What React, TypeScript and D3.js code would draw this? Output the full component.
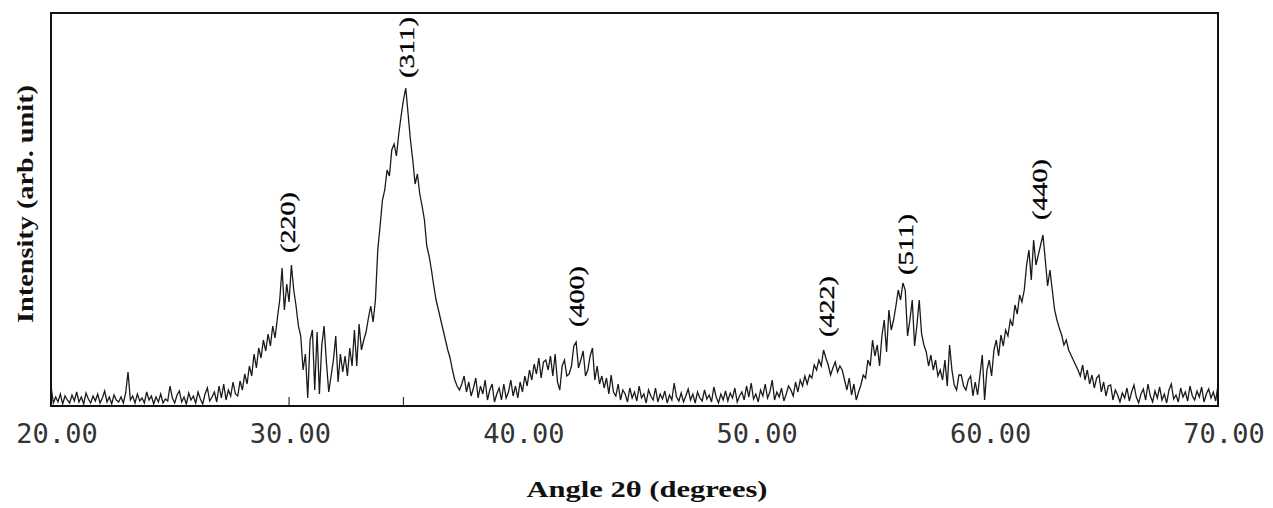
import * as d3 from "d3";

// XRD pattern, intensity at 0.1 degree steps (20.0 .. 70.0)
const angleStart = 20;
const angleStep = 0.1;
const intensity = [
  20, 3, 9, 4, 12, 2, 10, 6, 3, 11, // 20
  5, 14, 4, 9, 2, 13, 7, 3, 10, 5, // 21
  12, 3, 8, 15, 4, 9, 2, 11, 6, 4, // 22
  9, 3, 13, 34, 6, 10, 3, 12, 5, 8, // 23
  3, 14, 6, 10, 2, 9, 4, 12, 3, 7, // 24
  5, 20, 8, 3, 11, 15, 4, 9, 2, 13, // 25
  6, 10, 3, 14, 7, 2, 12, 18, 5, 9, // 26
  14, 4, 20, 8, 22, 6, 16, 10, 24, 12, // 27
  10, 25, 16, 32, 22, 40, 30, 52, 38, 58, // 28
  48, 66, 55, 72, 60, 80, 68, 88, 106, 138, // 29
  96, 122, 104, 141, 116, 100, 80, 70, 36, 52, // 30
  8, 66, 76, 16, 74, 12, 60, 80, 44, 14, // 31
  30, 46, 70, 24, 52, 34, 50, 30, 58, 40, // 32
  76, 40, 82, 56, 66, 74, 88, 100, 84, 106, // 33
  156, 180, 206, 216, 236, 230, 256, 262, 250, 272, // 34
  290, 306, 318, 292, 266, 246, 222, 232, 212, 200, // 35
  186, 160, 150, 136, 120, 106, 96, 86, 76, 66, // 36
  56, 48, 36, 26, 20, 16, 22, 30, 14, 24, // 37
  10, 18, 28, 8, 20, 12, 26, 6, 16, 22, // 38
  4, 12, 18, 6, 22, 8, 14, 26, 10, 20, // 39
  8, 24, 14, 30, 20, 36, 26, 42, 32, 48, // 40
  28, 44, 46, 36, 50, 30, 52, 24, 16, 40, // 41
  46, 30, 32, 40, 60, 64, 38, 46, 55, 30, // 42
  36, 50, 58, 26, 40, 22, 30, 18, 28, 12, // 43
  31, 14, 10, 22, 6, 16, 12, 4, 18, 8, // 44
  14, 5, 20, 8, 12, 3, 16, 10, 6, 18, // 45
  4, 12, 7, 15, 3, 11, 6, 23, 9, 5, // 46
  13, 4, 10, 17, 6, 12, 3, 14, 8, 5, // 47
  16, 7, 11, 4, 19, 9, 3, 12, 6, 15, // 48
  5, 13, 8, 18, 4, 10, 14, 6, 20, 9, // 49
  23, 7, 12, 4, 16, 10, 22, 8, 14, 26, // 50
  6, 14, 9, 18, 5, 12, 20, 16, 10, 24, // 51
  14, 26, 20, 30, 22, 31, 28, 41, 36, 46, // 52
  40, 56, 48, 41, 31, 38, 44, 34, 40, 36, // 53
  26, 16, 28, 11, 22, 6, 14, 21, 31, 28, // 54
  46, 40, 66, 50, 61, 40, 70, 86, 54, 96, // 55
  76, 86, 100, 116, 106, 123, 116, 70, 86, 106, // 56
  60, 81, 106, 72, 61, 54, 40, 51, 36, 46, // 57
  30, 36, 26, 46, 20, 61, 36, 21, 16, 31, // 58
  31, 20, 16, 26, 30, 10, 24, 11, 31, 51, // 59
  6, 36, 46, 30, 56, 66, 50, 71, 60, 76, // 60
  70, 86, 80, 101, 92, 111, 104, 116, 141, 156, // 61
  126, 166, 141, 151, 161, 171, 146, 120, 136, 116, // 62
  96, 86, 78, 71, 61, 66, 56, 51, 46, 41, // 63
  36, 30, 41, 26, 36, 22, 31, 18, 28, 31, // 64
  14, 24, 10, 20, 21, 6, 16, 11, 4, 13, // 65
  8, 18, 5, 14, 21, 9, 3, 12, 17, 6, // 66
  22, 10, 4, 15, 8, 19, 6, 12, 3, 16, // 67
  22, 7, 11, 4, 18, 9, 14, 5, 20, 10, // 68
  6, 15, 9, 19, 4, 12, 17, 8, 14, 5, // 69
  21, // 70
];

// hkl labels: angle and the intensity level where the label starts
const peakNames = ["(220)", "(311)", "(400)", "(422)", "(511)", "(440)"];
const peakAngles = [30.15, 35.25, 42.54, 53.25, 56.63, 62.37];
const peakLabelBase = [153, 328, 79, 69, 131, 186];

// little markers sitting on the baseline
const markerAngles = [30.2, 35.1];

const xTicks = [20, 30, 40, 50, 60, 70];

const W = 1273;
const H = 508;
const left = 51, right = 1218, top = 13, bottom = 406;

export default function App() {
  const x = d3.scaleLinear().domain([20, 70]).range([left, right]);
  const y = d3.scaleLinear().domain([0, 393]).range([bottom, top]);

  const points = intensity.map((v, i) => [angleStart + i * angleStep, v] as [number, number]);
  const line = d3
    .line<[number, number]>()
    .x((d) => x(d[0]))
    .y((d) => y(d[1]));

  return (
    <svg width={W} height={H} style={{ position: "absolute", left: 0, top: 0, background: "#fff" }}>
      <rect x={0} y={0} width={W} height={H} fill="#fff" />

      {/* trace */}
      <path d={line(points) || ""} fill="none" stroke="#1a1a1a" strokeWidth={1.3} strokeLinejoin="miter" />

      {markerAngles.map((a) => (
        <line key={a} x1={x(a)} x2={x(a)} y1={bottom} y2={bottom - 9} stroke="#333" strokeWidth={1.2} />
      ))}

      {/* frame */}
      <rect x={left} y={top} width={right - left} height={bottom - top} fill="none" stroke="#111" strokeWidth={2} />

      {/* x tick labels */}
      {xTicks.map((t) => (
        <text
          key={t}
          x={x(t) + 6}
          y={443}
          textAnchor="middle"
          fontFamily="'DejaVu Sans Mono', monospace"
          fontSize={27}
          fill="#333"
        >
          {t.toFixed(2)}
        </text>
      ))}

      {/* peak labels */}
      {peakNames.map((n, i) => {
        const px = x(peakAngles[i]);
        const py = y(peakLabelBase[i]);
        return (
          <text
            key={n}
            transform={`translate(${px},${py}) rotate(-90)`}
            dominantBaseline="central"
            fontFamily="'Liberation Serif', 'Times New Roman', serif"
            fontSize={21}
            textLength={61}
            lengthAdjust="spacingAndGlyphs"
            fill="#000"
            stroke="#000"
            strokeWidth={0.3}
          >
            {n}
          </text>
        );
      })}

      {/* axis titles */}
      <text
        x={647}
        y={497}
        textAnchor="middle"
        fontFamily="'Liberation Serif', 'Times New Roman', serif"
        fontWeight="bold"
        fontSize={23}
        textLength={241}
        lengthAdjust="spacingAndGlyphs"
        fill="#111"
      >
        Angle 2θ (degrees)
      </text>
      <text
        transform={`translate(25,204) rotate(-90)`}
        textAnchor="middle"
        dominantBaseline="central"
        fontFamily="'Liberation Serif', 'Times New Roman', serif"
        fontWeight="bold"
        fontSize={23}
        textLength={238}
        lengthAdjust="spacingAndGlyphs"
        fill="#111"
      >
        Intensity (arb. unit)
      </text>
    </svg>
  );
}
